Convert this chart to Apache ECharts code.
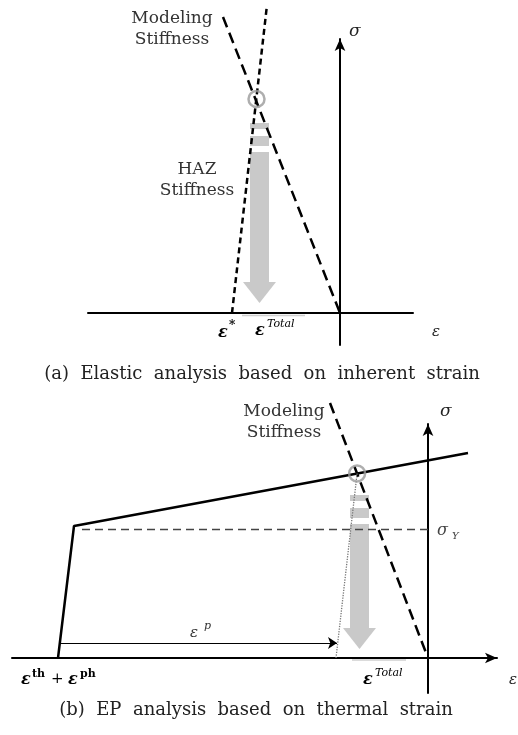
<!DOCTYPE html>
<html>
<head>
<meta charset="utf-8">
<script src="https://cdn.jsdelivr.net/npm/echarts@6/dist/echarts.min.js"></script>
<style>
html,body{margin:0;padding:0;background:#fff;}
#chart{width:518px;height:735px;}
</style>
</head>
<body>
<div id="chart"></div>
<script>
// ---------- Panel (a): elastic analysis based on inherent strain (schematic units) ----------
const aModelingLine = [[-11.7, 29.6], [0, 0]];
const aHazLine = [[-10.8, 0], [-7.3, 30.8]];
const aIntersection = [[-8.35, 21.4]];
const aArrow = [[-8.05, 19.0, 1.0]];          // [strain, stress at top, stress at tip]
const aTotalMark = [[-9.8, -0.25], [-3.5, -0.25]];

// ---------- Panel (b): EP analysis based on thermal strain ----------
const bStressStrain = [[-37.0, 0], [-35.4, 13.2], [4.0, 20.5]];
const bYield = [[-34.6, 12.85], [0, 12.85]];
const bModelingLine = [[-9.8, 25.5], [0, 0]];
const bIntersection = [[-7.09, 18.45]];
const bUnloading = [[-7.09, 18.45], [-9.2, 0]];
const bPlasticStrain = [[-36.8, 1.5], [-9.1, 1.5]];
const bArrow = [[-6.85, 16.3, 0.9]];
const bTotalMark = [[-7.6, -0.2], [-2.2, -0.2]];

const SERIF = '"DejaVu Serif", "Liberation Serif", serif';
const ARROW_GRAY = '#c9c9c9';

function renderArrow(params, api) {
  const top = api.coord([api.value(0), api.value(1)]);
  const tip = api.coord([api.value(0), api.value(2)]);
  const cx = top[0], y0 = top[1], y1 = tip[1];
  const sw = 9.5, hw = 16.5, hl = 21;
  const pieces = [[0, 6], [13, 23], [29, y1 - y0 - hl]];
  const children = pieces.map(p => ({
    type: 'rect',
    shape: { x: cx - sw, y: y0 + p[0], width: 2 * sw, height: p[1] - p[0] },
    style: { fill: ARROW_GRAY }
  }));
  children.push({
    type: 'polygon',
    shape: { points: [[cx - hw, y1 - hl], [cx + hw, y1 - hl], [cx, y1]] },
    style: { fill: ARROW_GRAY }
  });
  return { type: 'group', children };
}

function axisPair(gi, xr, yr, xArrow, yArrow) {
  const common = {
    type: 'value', gridIndex: gi, splitLine: { show: false },
    axisTick: { show: false }, axisLabel: { show: false }
  };
  return {
    x: Object.assign({}, common, {
      min: xr[0], max: xr[1],
      axisLine: { onZero: true, lineStyle: { color: '#000', width: 2 },
        symbol: xArrow ? ['none', 'arrow'] : ['none', 'none'], symbolSize: [8, 12] }
    }),
    y: Object.assign({}, common, {
      min: yr[0], max: yr[1],
      axisLine: { onZero: true, lineStyle: { color: '#000', width: 2 },
        symbol: yArrow ? ['none', 'arrow'] : ['none', 'none'], symbolSize: [8, 12] }
    })
  };
}

const A = axisPair(0, [-25.2, 7.3], [-3.2, 27.4], false, true);
const B = axisPair(1, [-41.6, 6.9], [-3.5, 23.4], true, true);

function line(gi, data, style, extra) {
  return Object.assign({
    type: 'line', xAxisIndex: gi, yAxisIndex: gi, data: data,
    symbol: 'none', clip: false, silent: true, animation: false,
    lineStyle: style
  }, extra || {});
}

function txt(x, y, text, font, opts) {
  return {
    type: 'text', x: x, y: y, silent: true,
    style: Object.assign({ text: text, font: font, fill: '#222', align: 'left', verticalAlign: 'middle' }, opts || {})
  };
}

const option = {
  backgroundColor: '#fff',
  animation: false,
  grid: [
    { left: 88, right: 105, top: 39, bottom: 390 },
    { left: 12, right: 21, top: 424, bottom: 42 }
  ],
  xAxis: [A.x, B.x],
  yAxis: [A.y, B.y],
  series: [
    // panel (a)
    { type: 'custom', xAxisIndex: 0, yAxisIndex: 0, data: aArrow, renderItem: renderArrow, silent: true, z: 1 },
    line(0, aTotalMark, { color: '#cfcfcf', width: 1.5 }),
    line(0, aModelingLine, { color: '#000', width: 2.5, type: [11, 6] }, { z: 3 }),
    line(0, aHazLine, { color: '#000', width: 2.5, type: [6, 4] }, { z: 3 }),
    { type: 'scatter', xAxisIndex: 0, yAxisIndex: 0, data: aIntersection, symbol: 'circle', symbolSize: 16,
      itemStyle: { color: 'rgba(0,0,0,0)', borderColor: '#9a9a9a', borderWidth: 2.5 }, silent: true, z: 4 },
    // panel (b)
    { type: 'custom', xAxisIndex: 1, yAxisIndex: 1, data: bArrow, renderItem: renderArrow, silent: true, z: 1 },
    line(1, bTotalMark, { color: '#cfcfcf', width: 1.5 }),
    line(1, bYield, { color: '#444', width: 1.3, type: [8, 5] }),
    line(1, bStressStrain, { color: '#000', width: 2.5 }, { z: 3 }),
    line(1, bModelingLine, { color: '#000', width: 2.5, type: [11, 6] }, { z: 3 }),
    line(1, bUnloading, { color: '#777', width: 1.3, type: 'dotted' }, { z: 3 }),
    { type: 'lines', coordinateSystem: 'cartesian2d', xAxisIndex: 1, yAxisIndex: 1, silent: true,
      data: [{ coords: bPlasticStrain }], symbol: ['none', 'arrow'], symbolSize: 9,
      lineStyle: { color: '#000', width: 1.2, opacity: 1 }, z: 3 },
    { type: 'scatter', xAxisIndex: 1, yAxisIndex: 1, data: bIntersection, symbol: 'circle', symbolSize: 16,
      itemStyle: { color: 'rgba(0,0,0,0)', borderColor: '#9a9a9a', borderWidth: 2.5 }, silent: true, z: 4 }
  ],
  graphic: [
    // panel (a) texts
    txt(172, 29, 'Modeling\nStiffness', '17px ' + SERIF, { align: 'center', lineHeight: 21, fill: '#333' }),
    txt(197, 180, 'HAZ\nStiffness', '17px ' + SERIF, { align: 'center', lineHeight: 21, fill: '#333' }),
    txt(349, 32, 'σ', 'italic 17px ' + SERIF),
    txt(432, 332, 'ε', 'italic 15px ' + SERIF),
    txt(218, 333, 'ε', 'italic bold 16px ' + SERIF, { fill: '#000' }),
    txt(229, 326, '*', 'bold 12px ' + SERIF, { fill: '#000' }),
    txt(255, 331, 'ε', 'italic bold 16px ' + SERIF, { fill: '#000' }),
    txt(267, 324, 'Total', 'italic 11px ' + SERIF, { fill: '#000' }),
    txt(262, 374, '(a)  Elastic  analysis  based  on  inherent  strain', '18px ' + SERIF, { align: 'center' }),
    // panel (b) texts
    txt(284, 422, 'Modeling\nStiffness', '17px ' + SERIF, { align: 'center', lineHeight: 21, fill: '#333' }),
    txt(440, 412, 'σ', 'italic 17px ' + SERIF),
    txt(437, 531, 'σ', 'italic 16px ' + SERIF, { fill: '#444' }),
    txt(452, 536, 'Y', 'italic 10px ' + SERIF, { fill: '#444' }),
    txt(509, 680, 'ε', 'italic 15px ' + SERIF),
    txt(190, 633, 'ε', 'italic 15px ' + SERIF, { fill: '#333' }),
    txt(204, 626, 'p', 'italic 11px ' + SERIF, { fill: '#333' }),
    txt(21, 680, 'ε', 'italic bold 16px ' + SERIF, { fill: '#000' }),
    txt(32, 674, 'th', 'bold 11px ' + SERIF, { fill: '#000' }),
    txt(51, 679, '+', '15px ' + SERIF, { fill: '#000' }),
    txt(68, 680, 'ε', 'italic bold 16px ' + SERIF, { fill: '#000' }),
    txt(80, 674, 'ph', 'bold 11px ' + SERIF, { fill: '#000' }),
    txt(363, 680, 'ε', 'italic bold 16px ' + SERIF, { fill: '#000' }),
    txt(375, 673, 'Total', 'italic 11px ' + SERIF, { fill: '#000' }),
    txt(256, 710, '(b)  EP  analysis  based  on  thermal  strain', '18px ' + SERIF, { align: 'center' })
  ]
};

const chart = echarts.init(document.getElementById('chart'), null, { renderer: 'canvas' });
chart.setOption(option);
</script>
</body>
</html>
